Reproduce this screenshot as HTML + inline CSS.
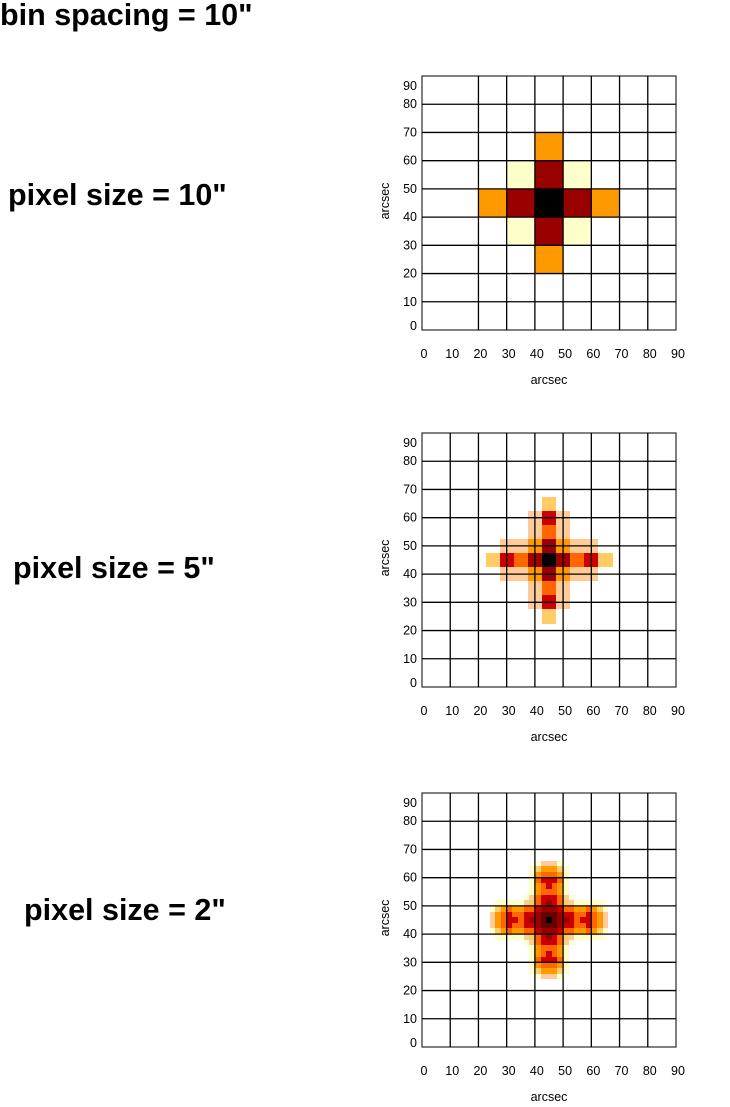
<!DOCTYPE html>
<html><head><meta charset="utf-8"><style>
html,body{margin:0;padding:0;background:#fff;width:730px;height:1107px;overflow:hidden}
svg{display:block}
.t{font-family:"Liberation Sans",sans-serif;font-weight:bold;font-size:30.5px;fill:#000}
.k{font-family:"Liberation Sans",sans-serif;font-size:12.5px;fill:#000}
rect{shape-rendering:crispEdges}
</style></head><body>
<svg id="fig" width="730" height="1107">
<text class="t" x="0" y="25">bin spacing = 10"</text>
<text class="t" x="8" y="205">pixel size = 10"</text>
<text class="t" x="13" y="578">pixel size = 5"</text>
<text class="t" x="24" y="920">pixel size = 2"</text>
</svg>
<script>
// tick values
const ticks = [0,10,20,30,40,50,60,70,80,90];
// 10" pixels: symmetric levels by (|dx|,|dy|), center at 45
const p1Levels = [[9,7,4],[7,1,0],[4,0,0]];
const p1Palette = ['#ffffff','#ffffcc','#ffcc99','#ffcc66','#ff9900','#ff6600','#cc0000','#990000','#660000','#000000'];
// 5" pixels
const p2Levels = [[9,7,5,6,3],[7,4,2,2,0],[5,2,0,0,0],[6,2,0,0,0],[3,0,0,0,0]];
// 2" pixels (quarter, symmetric)
const p3Levels = [
[9,8,7,7,6,5,6,6,5,4,2],
[8,8,7,6,6,5,5,6,5,4,2],
[7,7,6,5,5,4,4,5,4,3,1],
[7,6,5,3,2,1,1,1,1,1,0],
[6,6,5,2,1,0,0,0,0,0,0],
[5,5,4,1,0,0,0,0,0,0,0],
[6,5,4,1,0,0,0,0,0,0,0],
[6,6,5,1,0,0,0,0,0,0,0],
[5,5,4,1,0,0,0,0,0,0,0],
[4,4,3,1,0,0,0,0,0,0,0],
[2,2,1,0,0,0,0,0,0,0,0]];
const panels = [{top:76,size:10,lv:p1Levels,skip10:true},{top:433,size:5,lv:p2Levels},{top:793,size:2,lv:p3Levels}];
const svg = document.getElementById('fig');
const NS = 'http://www.w3.org/2000/svg';
function mk(tag, attrs){const e=document.createElementNS(NS,tag);for(const k in attrs)e.setAttribute(k,attrs[k]);svg.appendChild(e);return e;}
const L=422, W=254;
panels.forEach((p,pi)=>{
  const sx=v=>L+v/90*W, sy=v=>p.top+W-v/90*W;
  const n=p.lv.length;
  for(let i=-(n-1);i<=n-1;i++)for(let j=-(n-1);j<=n-1;j++){
    const lev=p.lv[Math.abs(j)][Math.abs(i)];
    if(!lev)continue;
    const cx=45+i*p.size, cy=45+j*p.size, h=p.size/2;
    const x0=Math.round(sx(cx-h)), x1=Math.round(sx(cx+h)), y0=Math.round(sy(cy+h)), y1=Math.round(sy(cy-h));
    const r=mk('rect',{x:x0,y:y0,width:x1-x0,height:y1-y0,fill:p1Palette[lev]});
    
    
  }
  ticks.forEach(t=>{
    if(t>0&&t<90&&!(p.skip10&&t===10)){
      const v=mk('line',{x1:sx(t),x2:sx(t),y1:p.top,y2:p.top+W,stroke:'#000','stroke-width':1.3});
      
      
    }
    if(t>0&&t<90){
      const hl=mk('line',{x1:L,x2:L+W,y1:sy(t),y2:sy(t),stroke:'#000','stroke-width':1.3});
      
      
    }
    const xl=mk('text',{x:sx(t)+2,y:p.top+W+28,'text-anchor':'middle',class:'k'});xl.textContent=t;
    
    
    const yl=mk('text',{x:417,y:sy(t)+(t===90?14:t===0?0:4),'text-anchor':'end',class:'k'});yl.textContent=t;
    
    
  });
  const fr=mk('rect',{x:L,y:p.top,width:W,height:W,fill:'none',stroke:'#000','stroke-width':1.3});
  
  
  const xt=mk('text',{x:549,y:p.top+W+54,'text-anchor':'middle',class:'k'});xt.textContent='arcsec';
  
  
  const yt=mk('text',{x:0,y:0,'text-anchor':'middle',class:'k',transform:`translate(389,${p.top+W/2-2}) rotate(-90)`});yt.textContent='arcsec';
  
  
});
</script>
</body></html>
